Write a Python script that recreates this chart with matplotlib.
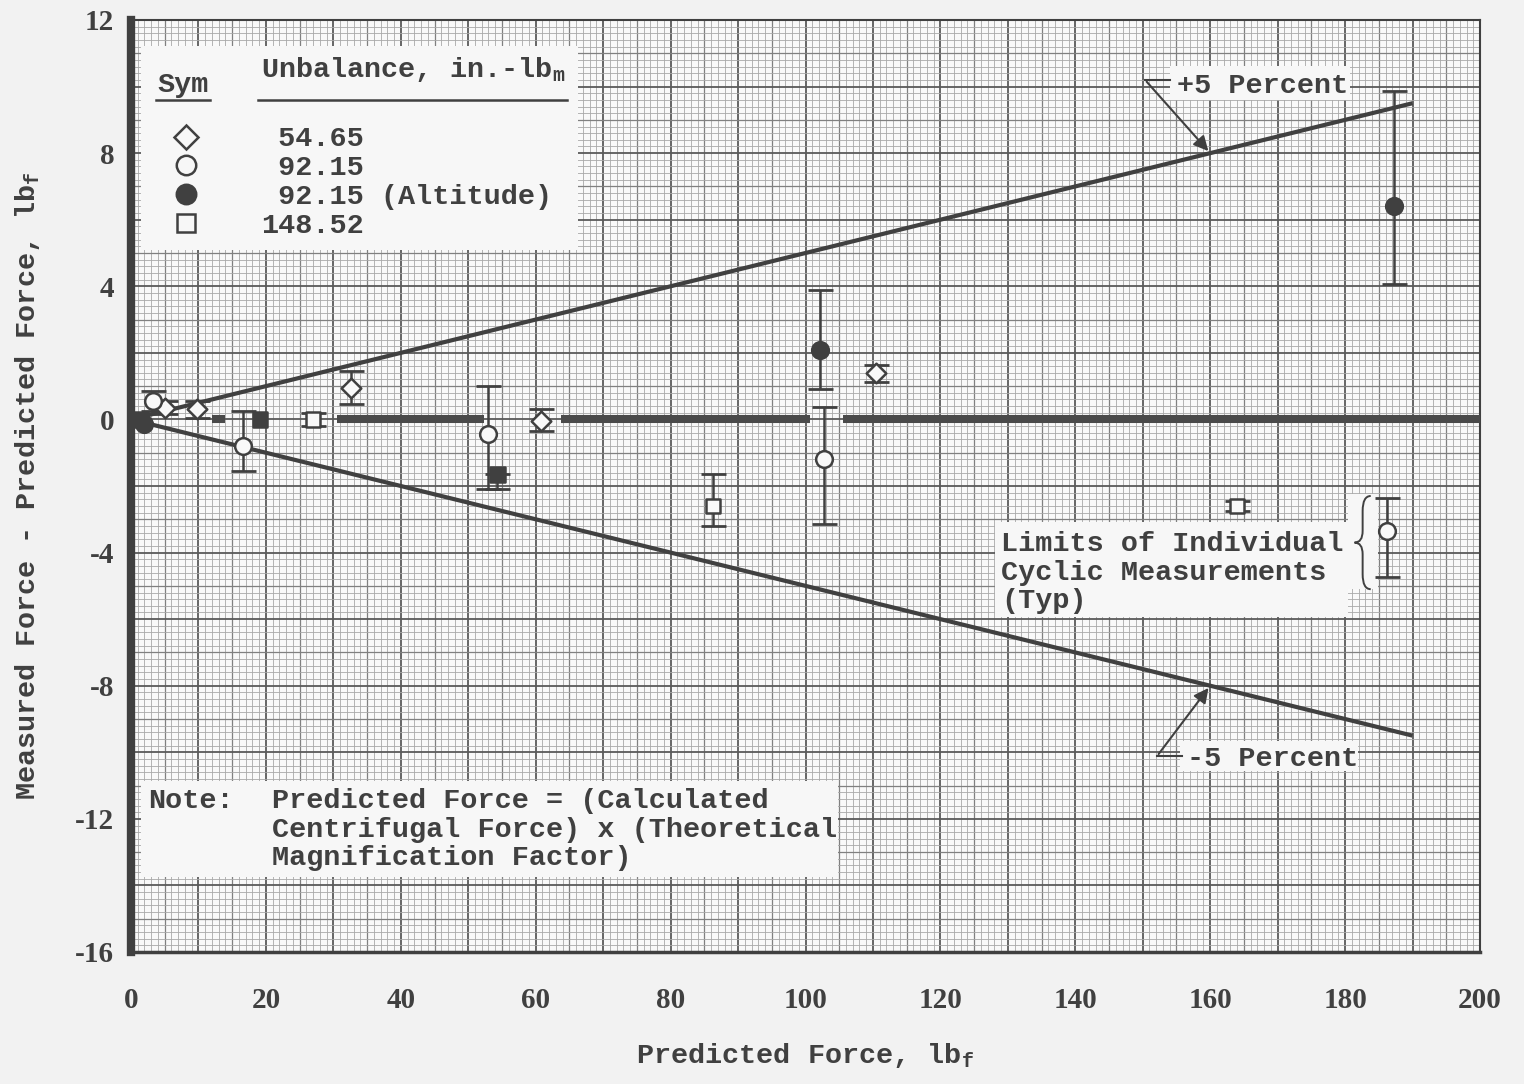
import matplotlib

matplotlib.use("Agg")

import matplotlib.pyplot as plt
import numpy as np
from matplotlib.patches import PathPatch, Rectangle
from matplotlib.path import Path

plt.rcParams["axes.unicode_minus"] = False

INK = "#404040"
MONO = "Liberation Mono"
TXT = dict(family=MONO, fontsize=20.5, color=INK, fontweight="bold")

# --- data ----------------------------------------------------------------
# 54.65 in.-lbm (open diamonds)
dia_x = [5.0, 9.8, 32.6, 60.8, 110.5]
dia_y = [0.35, 0.3, 0.95, -0.05, 1.4]
dia_lo = [0.15, 0.05, 0.45, -0.35, 1.12]
dia_hi = [0.55, 0.55, 1.45, 0.3, 1.65]

# 92.15 in.-lbm (open circles)
circ_x = [3.3, 16.6, 52.9, 102.7, 186.2]
circ_y = [0.55, -0.8, -0.43, -1.2, -3.36]
circ_lo = [0.25, -1.56, -2.1, -3.15, -4.74]
circ_hi = [0.85, 0.24, 1.0, 0.36, -2.37]

# 92.15 in.-lbm, altitude (filled circles)
alt_x = [2.0, 102.1, 187.2]
alt_y = [-0.15, 2.1, 6.4]
alt_lo = [-0.15, 0.9, 4.08]
alt_hi = [-0.15, 3.9, 9.88]

# 148.52 in.-lbm (squares; some print solid where bars overlap)
sq_x = [1.5, 19.1, 27.0, 54.3, 86.3, 164.0]
sq_y = [0.0, 0.0, 0.0, -1.65, -2.6, -2.6]
sq_lo = [0.0, 0.0, -0.2, -2.1, -3.2, -2.75]
sq_hi = [0.0, 0.0, 0.2, -1.65, -1.65, -2.45]
sq_solid = [True, True, False, True, False, False]

# zero line drawn in pieces on the original
zero_segments = [(12.0, 14.0), (30.5, 52.3), (63.8, 100.6), (105.5, 200.0)]

band_x = [0, 190]
band_pct = [5, -5]

x_ticks = list(range(0, 201, 20))
y_ticks = list(range(-16, 13, 4))

legend_labels = [" 54.65", " 92.15", " 92.15 (Altitude)", "148.52"]


def draw_grid(ax):
    xs = np.arange(0, 201)
    ax.vlines(xs[xs % 5 != 0], -16, 12, color="#a8a8a8", lw=0.6, zorder=0)
    ax.vlines(xs[(xs % 5 == 0) & (xs % 10 != 0)], -16, 12, color="#808080", lw=0.9, zorder=0)
    ax.vlines(xs[xs % 10 == 0], -16, 12, color="#5a5a5a", lw=1.3, zorder=0)
    ys = np.arange(-80, 61)
    ax.hlines(ys[ys % 5 != 0] / 5, 0, 200, color="#a8a8a8", lw=0.6, zorder=0)
    ax.hlines(ys[(ys % 5 == 0) & (ys % 10 != 0)] / 5, 0, 200, color="#808080", lw=0.9, zorder=0)
    ax.hlines(ys[ys % 10 == 0] / 5, 0, 200, color="#5a5a5a", lw=1.3, zorder=0)


def white_box(ax, x0, y0, x1, y1):
    ax.add_patch(Rectangle((x0, y0), x1 - x0, y1 - y0, facecolor="#f7f7f7",
                           edgecolor="none", zorder=3))


def series(ax, x, y, lo, hi, marker, face, size):
    x, y, lo, hi = map(np.asarray, (x, y, lo, hi))
    bar = hi > lo
    if bar.any():
        ax.errorbar(x[bar], y[bar], yerr=[y[bar] - lo[bar], hi[bar] - y[bar]], fmt="none",
                    ecolor=INK, elinewidth=1.8, capsize=9, capthick=2.0, zorder=5)
    ax.scatter(x, y, marker=marker, s=size ** 2, facecolors=face, edgecolors=INK,
               linewidths=1.8, zorder=6)


fig = plt.figure(figsize=(15.24, 10.84), dpi=100, facecolor="#f2f2f2")
ax = fig.add_axes([131 / 1524, 1 - 952 / 1084, 1349 / 1524, 932 / 1084])
ax.set_facecolor("#f9f9f9")
ax.set_xlim(0, 200)
ax.set_ylim(-16, 12)
draw_grid(ax)

# +/-5 percent lines and the zero line
for pct in band_pct:
    ax.plot(band_x, [v * pct / 100 for v in band_x], color=INK, lw=3.0, zorder=4,
            solid_capstyle="butt")
for a, b in zero_segments:
    ax.plot([a, b], [0, 0], color="#4a4a4a", lw=5.8, zorder=4, solid_capstyle="butt")

series(ax, dia_x, dia_y, dia_lo, dia_hi, "D", "#f9f9f9", 10)
series(ax, circ_x, circ_y, circ_lo, circ_hi, "o", "#f9f9f9", 12)
series(ax, alt_x, alt_y, alt_lo, alt_hi, "o", INK, 12)
sq_face = [INK if s else "#f9f9f9" for s in sq_solid]
series(ax, sq_x, sq_y, sq_lo, sq_hi, "s", sq_face, 10.5)

# legend block
white_box(ax, 1.5, 5.1, 66.3, 11.23)
ax.text(3.85, 9.85, "Sym", ha="left", va="baseline", zorder=7, **TXT)
ax.plot([3.7, 11.7], [9.6, 9.6], color=INK, lw=1.8, zorder=7)
ax.text(19.3, 10.28, r"Unbalance, in.-lb$_\mathregular{m}$", ha="left", va="baseline",
        zorder=7, **TXT)
ax.plot([18.8, 64.6], [9.6, 9.6], color=INK, lw=1.8, zorder=7)
leg_marks = [("D", "none", 12.5), ("o", "none", 14), ("o", INK, 14), ("s", "none", 13.5)]
for i, ((m, fc, ms), lab) in enumerate(zip(leg_marks, legend_labels)):
    yy = 8.5 - 0.87 * i
    ax.plot([8.15], [yy], marker=m, ms=ms, mfc=fc, mec=INK, mew=1.8, ls="none", zorder=7)
    ax.text(19.3, yy, lab, ha="left", va="center_baseline", zorder=7, **TXT)

# +5 / -5 labels with leaders
white_box(ax, 154.0, 9.61, 180.7, 10.63)
ax.text(155.1, 10.12, "+5 Percent", ha="left", va="center_baseline", zorder=7, **TXT)
ax.plot([154.0, 150.3], [10.21, 10.21], color=INK, lw=1.5, zorder=7)
ax.annotate("", xy=(160, 8.0), xytext=(150.3, 10.21), zorder=7,
            arrowprops=dict(arrowstyle="-|>", color=INK, lw=1.5, mutation_scale=22))

white_box(ax, 155.5, -10.57, 181.9, -9.67)
ax.text(156.6, -10.12, "-5 Percent", ha="left", va="center_baseline", zorder=7, **TXT)
ax.plot([155.8, 152.1], [-10.12, -10.12], color=INK, lw=1.5, zorder=7)
ax.annotate("", xy=(160, -8.0), xytext=(152.1, -10.12), zorder=7,
            arrowprops=dict(arrowstyle="-|>", color=INK, lw=1.5, mutation_scale=22))

# limits note with brace
white_box(ax, 128.1, -5.95, 180.4, -3.09)
white_box(ax, 180.4, -5.1, 184.9, -2.25)
lim_lines = ["Limits of Individual", "Cyclic Measurements", "(Typ)"]
for i, line in enumerate(lim_lines):
    ax.text(129.0, -3.96 - 0.856 * i, line, ha="left", va="baseline", zorder=7, **TXT)
brace = Path(
    [(183.8, -2.3), (182.6, -2.3), (182.6, -2.75), (182.6, -3.35), (182.6, -3.7),
     (181.4, -3.7), (182.6, -3.7), (182.6, -4.05), (182.6, -4.65), (182.6, -5.1),
     (183.8, -5.1)],
    [Path.MOVETO, Path.CURVE3, Path.CURVE3, Path.LINETO, Path.CURVE3, Path.CURVE3,
     Path.CURVE3, Path.CURVE3, Path.LINETO, Path.CURVE3, Path.CURVE3])
ax.add_patch(PathPatch(brace, facecolor="none", edgecolor=INK, lw=1.4, zorder=7))

# note
white_box(ax, 1.48, -13.75, 104.8, -10.87)
ax.text(2.5, -11.68, "Note:", ha="left", va="baseline", zorder=7, **TXT)
note_lines = ["Predicted Force = (Calculated", "Centrifugal Force) x (Theoretical",
              "Magnification Factor)"]
for i, line in enumerate(note_lines):
    ax.text(20.9, -11.68 - 0.856 * i, line, ha="left", va="baseline", zorder=7, **TXT)

# axes dressing
ax.set_xticks(x_ticks)
ax.set_xticklabels([str(v) for v in x_ticks])
ax.set_yticks(y_ticks)
ax.set_yticklabels([str(v) for v in y_ticks])
ax.tick_params(length=0)
ax.tick_params(axis="x", pad=25)
ax.tick_params(axis="y", pad=12)
for lab in ax.get_xticklabels() + ax.get_yticklabels():
    lab.set_fontfamily("Liberation Serif")
    lab.set_fontweight("bold")
    lab.set_fontsize(21)
    lab.set_color(INK)
ax.set_xlabel(r"Predicted Force, lb$_\mathregular{f}$", labelpad=20, **TXT)
ax.set_ylabel(r"Measured Force - Predicted Force, lb$_\mathregular{f}$", labelpad=24, **TXT)

for side, lw in (("left", 6.0), ("bottom", 2.5), ("top", 1.5), ("right", 1.5)):
    ax.spines[side].set_linewidth(lw)
    ax.spines[side].set_color(INK)

fig.savefig("out.png", dpi=100, facecolor=fig.get_facecolor())
